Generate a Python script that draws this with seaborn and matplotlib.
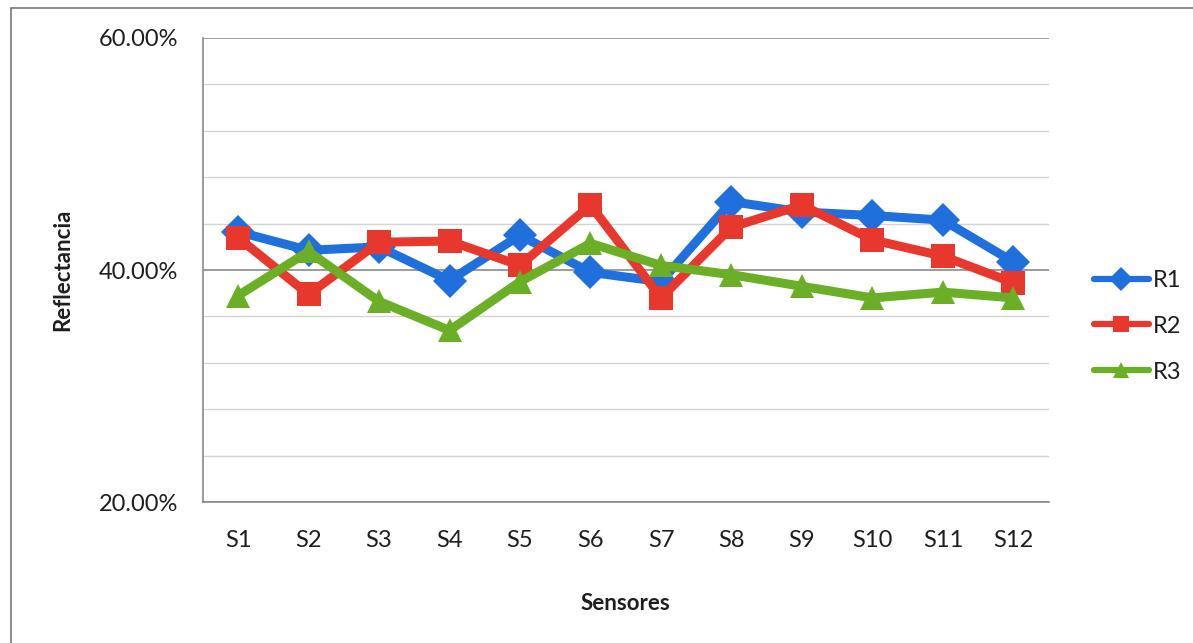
import pandas as pd
import numpy as np
import matplotlib
matplotlib.use('Agg')
import matplotlib.pyplot as plt
from matplotlib.ticker import PercentFormatter, MultipleLocator
from matplotlib.lines import Line2D
import seaborn as sns

# Data (reflectance per sensor)
sensores = ['S1', 'S2', 'S3', 'S4', 'S5', 'S6', 'S7', 'S8', 'S9', 'S10', 'S11', 'S12']
r1 = [43.3, 41.7, 42.0, 39.1, 43.0, 39.8, 39.0, 45.9, 45.0, 44.7, 44.3, 40.7]
r2 = [42.8, 37.9, 42.4, 42.5, 40.4, 45.6, 37.6, 43.7, 45.6, 42.6, 41.2, 38.9]
r3 = [37.8, 41.6, 37.3, 34.8, 39.0, 42.3, 40.4, 39.6, 38.6, 37.6, 38.1, 37.6]
series = ['R1', 'R2', 'R3']

df = pd.DataFrame({
    'Sensores': sensores * 3,
    'Reflectancia': np.array(r1 + r2 + r3) / 100,
    'Serie': np.repeat(series, len(sensores)),
})

sns.set_style('white')
plt.rcParams['font.family'] = ['Lato', 'DejaVu Sans']

colors = {'R1': '#1f6fdc', 'R2': '#e8372c', 'R3': '#6aaf25'}
markers = {'R1': 'D', 'R2': 's', 'R3': '^'}
txt = '#1e1e1e'

fig = plt.figure(figsize=(11.93, 6.43), dpi=100)
ax = fig.add_axes([0.170, 0.219, 0.709, 0.722])

sns.lineplot(data=df, x='Sensores', y='Reflectancia', hue='Serie', style='Serie',
             markers=markers, dashes=False, palette=colors, linewidth=6.5,
             markersize=17, markeredgewidth=0, ax=ax, legend=False, sort=False)

ax.set_xlim(-0.5, len(sensores) - 0.5)
ax.set_ylim(0.20, 0.60)
ax.yaxis.set_major_locator(MultipleLocator(0.20))
ax.yaxis.set_minor_locator(MultipleLocator(0.04))
ax.yaxis.set_major_formatter(PercentFormatter(1.0, decimals=2))
ax.grid(True, which='major', axis='y', color='#8a8a8a', linewidth=1.2)
ax.grid(True, which='minor', axis='y', color='#d4d4d4', linewidth=1.0)
ax.set_axisbelow(True)

for s in ['top', 'right']:
    ax.spines[s].set_visible(False)
for s in ['left', 'bottom']:
    ax.spines[s].set_color('#8a8a8a')
    ax.spines[s].set_linewidth(1.2)

ax.tick_params(axis='y', which='major', length=8, color='#8a8a8a', labelsize=17, pad=10)
ax.tick_params(axis='y', which='minor', length=0)
ax.tick_params(axis='x', length=0, labelsize=17, pad=20)
for lbl in ax.get_xticklabels() + ax.get_yticklabels():
    lbl.set_color(txt)

ax.set_xlabel('Sensores', fontsize=16, fontweight='bold', labelpad=30, color=txt)
ax.set_ylabel('Reflectancia', fontsize=16, fontweight='bold', labelpad=18, color=txt)

handles = [Line2D([], [], color=colors[s], marker=markers[s], linewidth=4.5,
                  markersize=12, markeredgewidth=0) for s in series]
leg = ax.legend(handles, series, loc='center left', bbox_to_anchor=(1.028, 0.379),
                frameon=False, fontsize=17, handlelength=2.35, handletextpad=0.15,
                labelspacing=1.05)
for t in leg.get_texts():
    t.set_color(txt)

# outer chart border (scanned page shows only top and left edges)
fig.add_artist(Line2D([0.009, 0.009], [0.0, 0.987], color='#777777', linewidth=1.2))
fig.add_artist(Line2D([0.009, 1.0], [0.987, 0.987], color='#777777', linewidth=1.2))

fig.savefig('out.png', dpi=100)
